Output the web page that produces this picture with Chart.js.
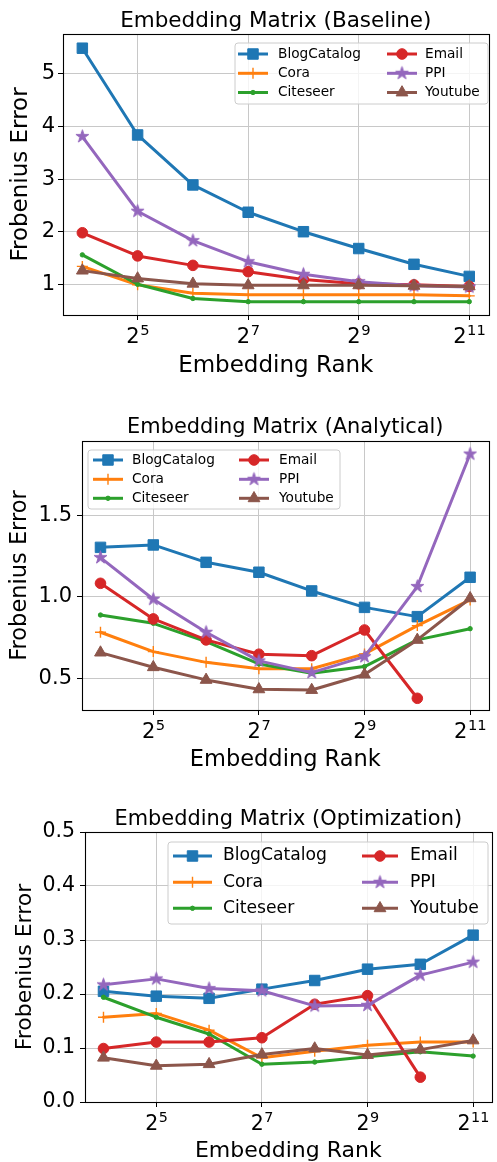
<!DOCTYPE html>
<html>
<head>
<meta charset="utf-8">
<script src="https://cdn.jsdelivr.net/npm/chart.js@4.4.1/dist/chart.umd.min.js"></script>
<style>
  html, body { margin: 0; padding: 0; background: #fff; }
  #page { position: relative; width: 497px; height: 1162px; overflow: hidden; background: #fff; }
  #page canvas { position: absolute; left: 0; }
</style>
</head>
<body>
<div id="page">
  <canvas id="c1" width="497" height="380" style="top:0px"></canvas>
  <canvas id="c2" width="497" height="400" style="top:380px"></canvas>
  <canvas id="c3" width="500" height="390" style="top:780px"></canvas>
</div>
<script>
// ---- data ----
const ranks = [16, 32, 64, 128, 256, 512, 1024, 2048];
const xTickRanks = [32, 128, 512, 2048];
const seriesNames = ['BlogCatalog', 'Cora', 'Citeseer', 'Email', 'PPI', 'Youtube'];

// Baseline
const baselineBlogCatalog = [5.49, 3.84, 2.89, 2.37, 2.00, 1.68, 1.38, 1.15];
const baselineCora        = [1.34, 0.99, 0.83, 0.80, 0.80, 0.80, 0.80, 0.78];
const baselineCiteseer    = [1.56, 1.00, 0.73, 0.67, 0.67, 0.67, 0.67, 0.67];
const baselineEmail       = [1.98, 1.54, 1.36, 1.24, 1.09, 1.01, 0.99, 0.96];
const baselinePPI         = [3.81, 2.39, 1.83, 1.43, 1.19, 1.05, 0.97, 0.95];
const baselineYoutube     = [1.26, 1.11, 1.01, 0.98, 0.98, 0.98, 0.97, 0.96];
const baselineYTicks = [1, 2, 3, 4, 5];

// Analytical
const analyticalBlogCatalog = [1.305, 1.320, 1.213, 1.152, 1.037, 0.936, 0.879, 1.121];
const analyticalCora        = [0.783, 0.664, 0.598, 0.559, 0.559, 0.650, 0.824, 0.982];
const analyticalCiteseer    = [0.889, 0.838, 0.725, 0.588, 0.531, 0.572, 0.736, 0.805];
const analyticalEmail       = [1.084, 0.865, 0.736, 0.648, 0.639, 0.797, 0.377, null];
const analyticalPPI         = [1.242, 0.986, 0.783, 0.607, 0.535, 0.633, 1.064, 1.879];
const analyticalYoutube     = [0.658, 0.568, 0.490, 0.432, 0.428, 0.523, 0.736, 0.992];
const analyticalYTicks = [0.5, 1.0, 1.5];

// Optimization
const optimizationBlogCatalog = [0.205, 0.196, 0.192, 0.209, 0.225, 0.246, 0.255, 0.309];
const optimizationCora        = [0.157, 0.164, 0.133, 0.082, 0.094, 0.105, 0.111, 0.111];
const optimizationCiteseer    = [0.194, 0.157, 0.126, 0.070, 0.074, 0.084, 0.093, 0.085];
const optimizationEmail       = [0.099, 0.111, 0.111, 0.119, 0.181, 0.197, 0.046, null];
const optimizationPPI         = [0.217, 0.228, 0.210, 0.206, 0.178, 0.179, 0.235, 0.259];
const optimizationYoutube     = [0.082, 0.067, 0.070, 0.088, 0.099, 0.087, 0.097, 0.114];
const optimizationYTicks = [0.0, 0.1, 0.2, 0.3, 0.4, 0.5];

// ---- styling ----
const FONT = '"DejaVu Sans", "Liberation Sans", sans-serif';
const COLORS = {
  BlogCatalog: '#1f77b4', Cora: '#ff7f0e', Citeseer: '#2ca02c',
  Email: '#d62728', PPI: '#9467bd', Youtube: '#8c564b'
};

function makeStar(color, outer) {
  const size = Math.ceil(outer * 2 + 3);
  const c = document.createElement('canvas');
  c.width = c.height = size;
  const g = c.getContext('2d');
  g.beginPath();
  for (let i = 0; i < 10; i++) {
    const r = i % 2 ? outer * 0.382 : outer;
    const a = -Math.PI / 2 + i * Math.PI / 5;
    g.lineTo(size / 2 + r * Math.cos(a), size / 2 + r * Math.sin(a));
  }
  g.closePath();
  g.fillStyle = color; g.fill();
  g.lineWidth = 1; g.strokeStyle = color; g.stroke();
  return c;
}
const starMarker = makeStar(COLORS.PPI, 6.8);

const MARKERS = {
  BlogCatalog: { pointStyle: 'rect', pointRadius: 7.4, pointBorderWidth: 1 },
  Cora:        { pointStyle: 'cross', pointRadius: 5.5, pointBorderWidth: 1.4 },
  Citeseer:    { pointStyle: 'circle', pointRadius: 2.2, pointBorderWidth: 1 },
  Email:       { pointStyle: 'circle', pointRadius: 5.3, pointBorderWidth: 1 },
  PPI:         { pointStyle: starMarker, pointRadius: 6.8, pointBorderWidth: 1 },
  Youtube:     { pointStyle: 'triangle', pointRadius: 6.8, pointBorderWidth: 1 }
};

function buildDatasets(seriesValues) {
  return seriesNames.map((name, i) => Object.assign({
    label: name,
    data: ranks.map((r, j) => ({ x: r, y: seriesValues[i][j] })),
    borderColor: COLORS[name],
    backgroundColor: COLORS[name],
    pointBackgroundColor: COLORS[name],
    pointBorderColor: COLORS[name],
    borderWidth: 3,
    borderJoinStyle: 'round',
    borderCapStyle: 'round',
    tension: 0,
    spanGaps: false,
    order: seriesNames.length - i
  }, MARKERS[name]));
}

// frame, in-axes legend and 2^k tick labels
const axesDecor = {
  id: 'axesDecor',
  afterDatasetsDraw(chart) {
    const { ctx, chartArea: a } = chart;
    ctx.save();
    ctx.strokeStyle = '#000';
    ctx.lineWidth = 1.1;
    ctx.strokeRect(Math.round(a.left) + 0.5, Math.round(a.top) + 0.5,
                   Math.round(a.right - a.left), Math.round(a.bottom - a.top));
    ctx.restore();
  },
  afterDraw(chart, args, opts) {
    const ctx = chart.ctx;
    const a = chart.chartArea;
    // exponent tick labels on the rank axis
    const xs = chart.scales.x;
    ctx.save();
    ctx.fillStyle = '#000';
    ctx.textBaseline = 'alphabetic';
    ctx.textAlign = 'left';
    const fb = opts.xTickFont, fe = opts.xTickFont * 0.7;
    const baseY = a.bottom + opts.xTickBaseline;
    xs.ticks.forEach(t => {
      const px = xs.getPixelForValue(t.value);
      const ex = String(Math.round(Math.log2(t.value)));
      ctx.font = fb + 'px ' + FONT;
      const wb = ctx.measureText('2').width;
      ctx.font = fe + 'px ' + FONT;
      const we = ctx.measureText(ex).width;
      const x0 = px - (wb + we) / 2;
      ctx.font = fb + 'px ' + FONT;
      ctx.fillText('2', x0, baseY);
      ctx.font = fe + 'px ' + FONT;
      ctx.fillText(ex, x0 + wb + 0.5, baseY - fb * 0.4);
    });
    ctx.restore();

    // legend
    const L = opts.legend;
    ctx.save();
    const r = 3;
    ctx.beginPath();
    ctx.moveTo(L.x + r, L.y);
    ctx.arcTo(L.x + L.w, L.y, L.x + L.w, L.y + L.h, r);
    ctx.arcTo(L.x + L.w, L.y + L.h, L.x, L.y + L.h, r);
    ctx.arcTo(L.x, L.y + L.h, L.x, L.y, r);
    ctx.arcTo(L.x, L.y, L.x + L.w, L.y, r);
    ctx.closePath();
    ctx.fillStyle = 'rgba(255,255,255,0.8)';
    ctx.fill();
    ctx.strokeStyle = '#cccccc';
    ctx.lineWidth = 1;
    ctx.stroke();
    chart.data.datasets.forEach((ds, i) => {
      const col = L.cols[Math.floor(i / 3)];
      const y = L.rows[i % 3];
      ctx.strokeStyle = ds.borderColor;
      ctx.lineWidth = ds.borderWidth;
      ctx.lineCap = 'butt';
      ctx.beginPath();
      ctx.moveTo(col.x1, y);
      ctx.lineTo(col.x2, y);
      ctx.stroke();
      ctx.fillStyle = ds.pointBackgroundColor;
      ctx.strokeStyle = ds.pointBorderColor;
      ctx.lineWidth = ds.pointBorderWidth;
      Chart.helpers.drawPoint(ctx, {
        pointStyle: ds.pointStyle, radius: ds.pointRadius,
        rotation: 0, borderWidth: ds.pointBorderWidth
      }, (col.x1 + col.x2) / 2, y);
      ctx.fillStyle = '#000';
      ctx.font = L.font + 'px ' + FONT;
      ctx.textBaseline = 'middle';
      ctx.textAlign = 'left';
      ctx.fillText(ds.label, col.tx, y);
    });
    ctx.restore();
  }
};

function makePanel(p) {
  const canvas = document.getElementById(p.id);
  const W = canvas.width, H = canvas.height;
  new Chart(canvas, {
    type: 'line',
    data: { datasets: buildDatasets(p.values) },
    plugins: [axesDecor],
    options: {
      responsive: false,
      animation: false,
      devicePixelRatio: 1,
      events: [],
      layout: { padding: { left: 0, top: 0, right: W - p.R, bottom: 0 } },
      plugins: {
        legend: { display: false },
        tooltip: { enabled: false },
        title: {
          display: true,
          text: p.title,
          fullSize: false,
          color: '#000',
          font: { family: FONT, size: p.titleFont, weight: 'normal', lineHeight: 1 },
          padding: { top: p.titleMid - p.titleFont / 2, bottom: p.T - p.titleMid - p.titleFont / 2 }
        },
        axesDecor: { legend: p.legend, xTickFont: p.xTickFont, xTickBaseline: 28 }
      },
      scales: {
        x: {
          type: 'logarithmic',
          min: Math.pow(2, 3.65),
          max: Math.pow(2, 11.35),
          afterBuildTicks: s => { s.ticks = xTickRanks.map(v => ({ value: v })); },
          afterFit: s => { s.height = H - p.B; },
          ticks: { display: false, autoSkip: false },
          grid: { color: '#c8c8c8', lineWidth: 1, drawTicks: true, tickLength: 5, tickColor: '#000', tickWidth: 1 },
          border: { display: false },
          title: {
            display: true, text: 'Embedding Rank', color: '#000',
            font: { family: FONT, size: p.axisTitleFont, lineHeight: 1 },
            padding: { top: 0, bottom: H - p.xTitleMid - p.axisTitleFont / 2 }
          }
        },
        y: {
          type: 'linear',
          min: p.yMin,
          max: p.yMax,
          afterBuildTicks: s => { s.ticks = p.yTicks.map(v => ({ value: v })); },
          afterFit: s => { s.width = p.L; },
          ticks: {
            autoSkip: false,
            color: '#000',
            padding: p.yTickPad,
            font: { family: FONT, size: p.yTickFont },
            callback: v => v.toFixed(p.yDecimals)
          },
          grid: { color: '#c8c8c8', lineWidth: 1, drawTicks: true, tickLength: 5, tickColor: '#000', tickWidth: 1 },
          border: { display: false },
          title: {
            display: true, text: 'Frobenius Error', color: '#000',
            font: { family: FONT, size: p.axisTitleFont, lineHeight: 1 },
            padding: { top: p.yTitleMid - p.axisTitleFont / 2, bottom: 0 }
          }
        }
      }
    }
  });
}

makePanel({
  id: 'c1', title: 'Embedding Matrix (Baseline)',
  values: [baselineBlogCatalog, baselineCora, baselineCiteseer, baselineEmail, baselinePPI, baselineYoutube],
  yMin: 0.416, yMax: 5.76, yTicks: baselineYTicks, yDecimals: 0,
  L: 63, T: 34, R: 494, B: 315,
  titleFont: 21.5, titleMid: 21.9,
  yTickFont: 21, yTickPad: 3, xTickFont: 21,
  axisTitleFont: 23, yTitleMid: 21, xTitleMid: 366,
  legend: { x: 235, y: 43, w: 253, h: 61, rows: [54, 73.3, 92.5], font: 13.7,
            cols: [{ x1: 238, x2: 268, tx: 278 }, { x1: 387, x2: 417, tx: 425 }] }
});

makePanel({
  id: 'c2', title: 'Embedding Matrix (Analytical)',
  values: [analyticalBlogCatalog, analyticalCora, analyticalCiteseer, analyticalEmail, analyticalPPI, analyticalYoutube],
  yMin: 0.305, yMax: 1.959, yTicks: analyticalYTicks, yDecimals: 1,
  L: 82, T: 61, R: 494, B: 330,
  titleFont: 20.9, titleMid: 47.8,
  yTickFont: 21, yTickPad: 5, xTickFont: 21,
  axisTitleFont: 22.5, yTitleMid: 20.5, xTitleMid: 380.2,
  legend: { x: 88, y: 70, w: 252, h: 59, rows: [80, 99.3, 118.3], font: 13.7,
            cols: [{ x1: 93, x2: 123, tx: 132 }, { x1: 239, x2: 269, tx: 279 }] }
});

makePanel({
  id: 'c3', title: 'Embedding Matrix (Optimization)',
  values: [optimizationBlogCatalog, optimizationCora, optimizationCiteseer, optimizationEmail, optimizationPPI, optimizationYoutube],
  yMin: 0, yMax: 0.5, yTicks: optimizationYTicks, yDecimals: 1,
  L: 85, T: 52, R: 497.5, B: 322,
  titleFont: 20.9, titleMid: 39.5,
  yTickFont: 20.5, yTickPad: 5, xTickFont: 20.5,
  axisTitleFont: 22, yTitleMid: 25, xTitleMid: 371.5,
  legend: { x: 168, y: 62, w: 320, h: 82, rows: [76, 102.3, 128.3], font: 17.2,
            cols: [{ x1: 173, x2: 212, tx: 223 }, { x1: 362, x2: 398, tx: 410 }] }
});
</script>
</body>
</html>
